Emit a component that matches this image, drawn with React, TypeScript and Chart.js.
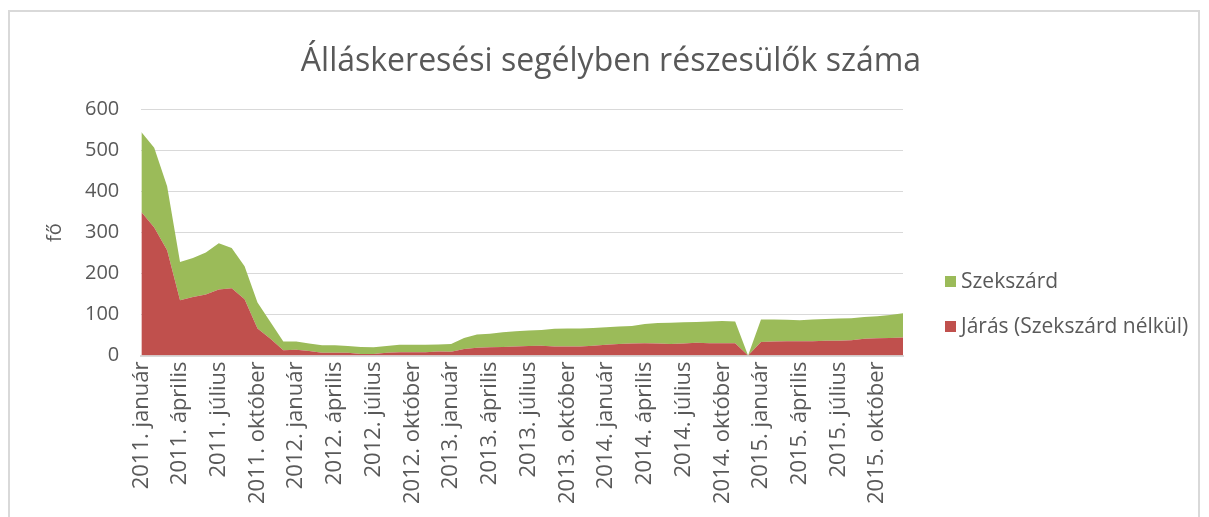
import React, { useEffect, useRef } from "react";
import { Chart, registerables } from "chart.js";

Chart.register(...registerables);

const years = ["2011", "2012", "2013", "2014", "2015"];
const months = [
  "január", "február", "március", "április", "május", "június",
  "július", "augusztus", "szeptember", "október", "november", "december",
];
const categories: string[] = [];
years.forEach((y) => months.forEach((m) => categories.push(`${y}. ${m}`)));

// Járás (Szekszárd nélkül) – bottom layer
const jaras = [
  350, 312, 257, 135, 143, 149, 161, 164, 137, 66, 41, 13,
  14, 11, 7, 7, 7, 4, 4, 7, 8, 8, 8, 10,
  9, 16, 19, 20, 21, 22, 23, 24, 22, 22, 22, 24,
  26, 28, 29, 30, 29, 28, 29, 31, 30, 30, 30, 0,
  33, 34, 35, 35, 35, 36, 36, 37, 41, 42, 43, 44,
];

// Szekszárd – top layer
const szekszard = [
  195, 195, 156, 93, 95, 102, 113, 98, 81, 63, 41, 21,
  20, 18, 18, 18, 16, 17, 16, 16, 18, 18, 18, 17,
  19, 27, 32, 33, 36, 37, 38, 38, 43, 44, 44, 43,
  43, 43, 43, 47, 50, 52, 52, 51, 53, 54, 53, 0,
  55, 54, 52, 51, 53, 53, 54, 54, 53, 54, 56, 59,
];

const yTicks = [0, 100, 200, 300, 400, 500, 600];

const TITLE = "Álláskeresési segélyben részesülők száma";
const Y_TITLE = "fő";

const FONT = "'Open Sans', 'Liberation Sans', sans-serif";
const GREY = "#595959";

// Title, axis title and legend drawn on the canvas around the plot area
const decorations = {
  id: "decorations",
  afterDraw(chart: any) {
    const ctx = chart.ctx as CanvasRenderingContext2D;
    const { right, top, bottom } = chart.chartArea;
    ctx.save();
    ctx.fillStyle = GREY;

    // chart title
    ctx.font = `32px ${FONT}`;
    ctx.textAlign = "center";
    ctx.textBaseline = "middle";
    ctx.fillText(TITLE, chart.width / 2 + 8, 50);

    // y axis title
    ctx.save();
    ctx.font = `20px ${FONT}`;
    ctx.translate(45, (top + bottom) / 2);
    ctx.rotate(-Math.PI / 2);
    ctx.fillText(Y_TITLE, 0, 0);
    ctx.restore();

    // legend (Szekszárd listed first)
    const ds = [...chart.data.datasets].reverse();
    ctx.font = `21px ${FONT}`;
    ctx.textAlign = "left";
    ds.forEach((d: any, i: number) => {
      const cy = top + 172 + i * 45;
      ctx.fillStyle = d.backgroundColor;
      ctx.fillRect(right + 42, cy - 5.5, 11, 11);
      ctx.fillStyle = GREY;
      ctx.fillText(d.label, right + 58, cy + 1);
    });
    ctx.restore();
  },
};

export default function App() {
  const ref = useRef<HTMLCanvasElement | null>(null);

  useEffect(() => {
    if (!ref.current) return;
    const chart = new Chart(ref.current, {
      type: "line",
      data: {
        labels: categories,
        datasets: [
          {
            label: "Járás (Szekszárd nélkül)",
            data: jaras,
            backgroundColor: "#C0504D",
            borderWidth: 0,
            pointRadius: 0,
            fill: "origin",
            tension: 0,
          },
          {
            label: "Szekszárd",
            data: szekszard,
            backgroundColor: "#9BBB59",
            borderWidth: 0,
            pointRadius: 0,
            fill: "-1",
            tension: 0,
          },
        ],
      },
      plugins: [decorations],
      options: {
        animation: false,
        responsive: false,
        layout: { padding: { left: 53, right: 293, top: 97.5, bottom: 10 } },
        plugins: {
          title: { display: false },
          legend: { display: false },
          tooltip: { enabled: false },
        },
        scales: {
          x: {
            grid: { display: false, drawTicks: false },
            border: { color: "#d9d9d9", width: 2 },
            ticks: {
              autoSkip: false,
              minRotation: 90,
              maxRotation: 90,
              color: GREY,
              padding: 6,
              font: { family: FONT, size: 22 },
              callback: (_v: any, i: number) => (i % 3 === 0 ? categories[i] : null),
            },
          },
          y: {
            stacked: true,
            min: 0,
            max: 600,
            afterBuildTicks: (axis: any) => {
              axis.ticks = yTicks.map((v) => ({ value: v }));
            },
            grid: { color: "#d9d9d9", lineWidth: 1, drawTicks: false },
            border: { display: false },
            ticks: {
              color: GREY,
              padding: 22,
              font: { family: FONT, size: 20 },
            },
          },
        },
      },
    });
    return () => chart.destroy();
  }, []);

  return (
    <div
      style={{
        position: "relative",
        marginTop: 2,
        width: 1192,
        height: 512,
        borderTop: "2px solid #d9d9d9",
        borderLeft: "2px solid #d9d9d9",
        borderRight: "2px solid #d9d9d9",
        boxSizing: "border-box",
      }}
    >
      <canvas ref={ref} width={1186} height={508} style={{ display: "block" }} />
    </div>
  );
}
